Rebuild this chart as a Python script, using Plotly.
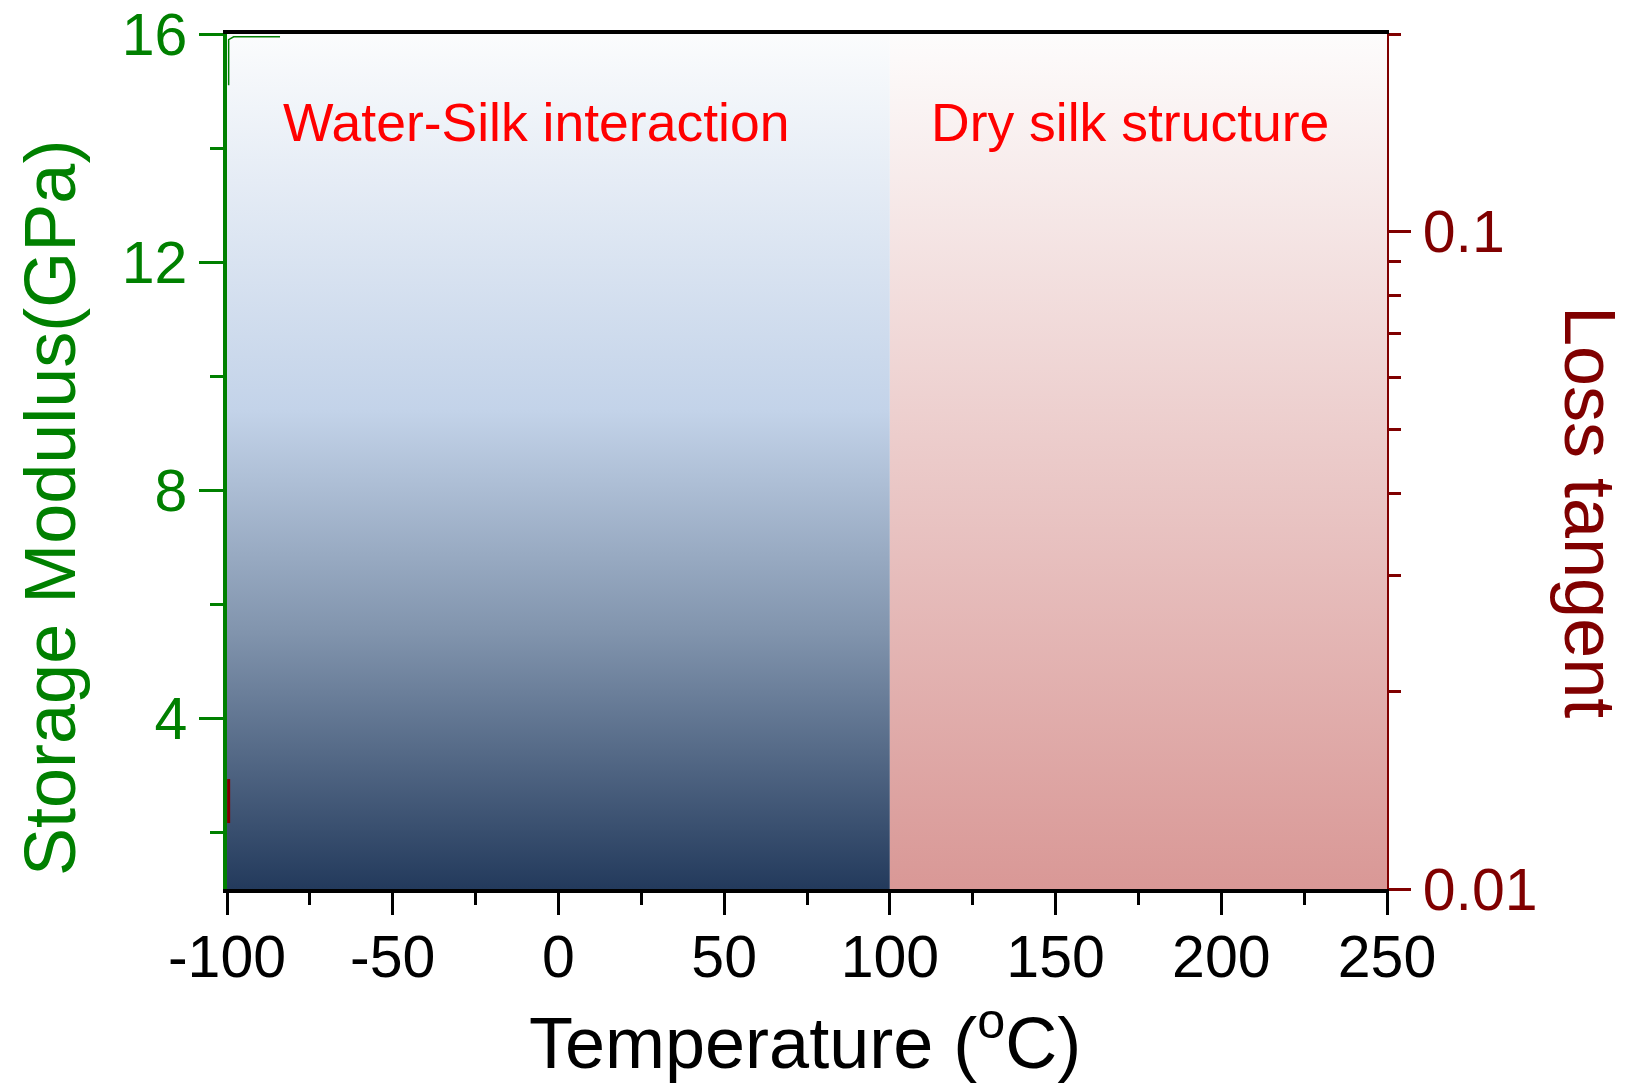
import math
import plotly.graph_objects as go

# ---------------- data ----------------
# shaded temperature regimes (°C)
water_region = [-100, 100]
dry_region = [100, 250]
region_labels = ["Water-Silk interaction", "Dry silk structure"]
region_label_x = [-6.8, 172.5]
region_label_y = [14.45, 14.45]

# storage modulus trace (GPa) – squeezed at the left edge in the original
storage_temp = [-99.5, -99.5, -98.0, -84.0]
storage_mod = [15.1, 15.9, 15.95, 15.95]

# loss tangent trace – tiny segment near the left edge
loss_temp = [-99.5, -99.5]
loss_tan = [0.0126, 0.0147]

x_ticks = [-100, -50, 0, 50, 100, 150, 200, 250]
x_minor = [-75, -25, 25, 75, 125, 175, 225]
y_ticks = [4, 8, 12, 16]
y_minor = [2, 6, 10, 14]
y2_ticks = [0.01, 0.1]
y2_ticktext = ["0.01", "0.1"]
y2_minor = [0.02, 0.03, 0.04, 0.05, 0.06, 0.07, 0.08, 0.09, 0.2]

x_range = [-100, 250]
y_range = [1.0, 16.0]
y2_range = [0.01, 0.2]

GREEN = "#008000"
DARKRED = "#800000"
FONT = "Liberation Sans, Arial, sans-serif"

fig = go.Figure()

# gradient-filled regions
def region(xr, scale):
    xs = [xr[0], xr[1], xr[1], xr[0], xr[0]]
    ys = [y_range[0], y_range[0], y_range[1], y_range[1], y_range[0]]
    return go.Scatter(
        x=xs, y=ys, mode="lines", fill="toself", line=dict(width=0),
        fillgradient=dict(type="vertical", colorscale=scale,
                          start=y_range[0], stop=y_range[1]),
        hoverinfo="skip", showlegend=False,
    )

fig.add_trace(region(water_region, [[0.0, "#233a5c"], [0.3, "#8194ad"],
                                    [0.56, "#c3d3e9"], [1.0, "#fbfcfd"]]))
fig.add_trace(region(dry_region, [[0.0, "#d99896"], [1.0, "#fdfcfc"]]))

fig.add_trace(go.Scatter(x=storage_temp, y=storage_mod, mode="lines",
                         line=dict(color=GREEN, width=1.5), showlegend=False))
fig.add_trace(go.Scatter(x=loss_temp, y=loss_tan, mode="lines", yaxis="y2",
                         line=dict(color=DARKRED, width=3), showlegend=False))

fig.update_layout(
    template="none",
    width=1630, height=1083,
    margin=dict(l=227, r=243, t=34, b=194, autoexpand=False),
    paper_bgcolor="white", plot_bgcolor="white",
    font=dict(family=FONT),
    showlegend=False,
    xaxis=dict(
        automargin=False,
        range=x_range, tickmode="array", tickvals=x_ticks,
        ticktext=[str(v) for v in x_ticks],
        ticks="outside", ticklen=22, tickwidth=3, tickcolor="black",
        ticklabelstandoff=-9,
        showline=True, linecolor="black", linewidth=3.5, mirror=True,
        showgrid=False, zeroline=False,
        tickfont=dict(size=59, color="black", family=FONT),
        minor=dict(tickvals=x_minor, ticks="outside", ticklen=12,
                   tickwidth=3, tickcolor="black", showgrid=False),
    ),
    yaxis=dict(
        automargin=False,
        range=y_range, tickmode="array", tickvals=y_ticks,
        ticks="outside", ticklen=24, tickwidth=3, tickcolor=GREEN,
        showline=True, linecolor=GREEN, linewidth=3.5,
        showgrid=False, zeroline=False,
        tickfont=dict(size=59, color=GREEN, family=FONT),
        minor=dict(tickvals=y_minor, ticks="outside", ticklen=13,
                   tickwidth=3, tickcolor=GREEN, showgrid=False),
    ),
    yaxis2=dict(
        automargin=False,
        type="log", overlaying="y", side="right", anchor="x",
        range=[math.log10(y2_range[0]), math.log10(y2_range[1])],
        tickmode="array", tickvals=y2_ticks, ticktext=y2_ticktext,
        ticks="outside", ticklen=22, tickwidth=3, tickcolor=DARKRED,
        showline=True, linecolor=DARKRED, linewidth=2,
        showgrid=False, zeroline=False,
        tickfont=dict(size=59, color=DARKRED, family=FONT),
        minor=dict(tickvals=y2_minor, ticks="outside", ticklen=12,
                   tickwidth=3, tickcolor=DARKRED, showgrid=False),
    ),
)

for txt, xx, yy in zip(region_labels, region_label_x, region_label_y):
    fig.add_annotation(x=xx, y=yy, xref="x", yref="y", text=txt,
                       showarrow=False, font=dict(size=53.5, color="red", family=FONT))

fig.add_annotation(x=0.498, y=-0.174, xref="paper", yref="paper",
                   text="Temperature (<sup>o</sup>C)", showarrow=False,
                   xanchor="center", yanchor="middle",
                   font=dict(size=72, color="black", family=FONT))
fig.add_annotation(x=-0.1526, y=0.4456, xref="paper", yref="paper",
                   text="Storage Modulus(GPa)", showarrow=False, textangle=-90,
                   xanchor="center", yanchor="middle",
                   font=dict(size=72, color=GREEN, family=FONT))
fig.add_annotation(x=1.175, y=0.441, xref="paper", yref="paper",
                   text="Loss tangent", showarrow=False, textangle=90,
                   xanchor="center", yanchor="middle",
                   font=dict(size=72, color=DARKRED, family=FONT))

fig.write_html("out.html")
